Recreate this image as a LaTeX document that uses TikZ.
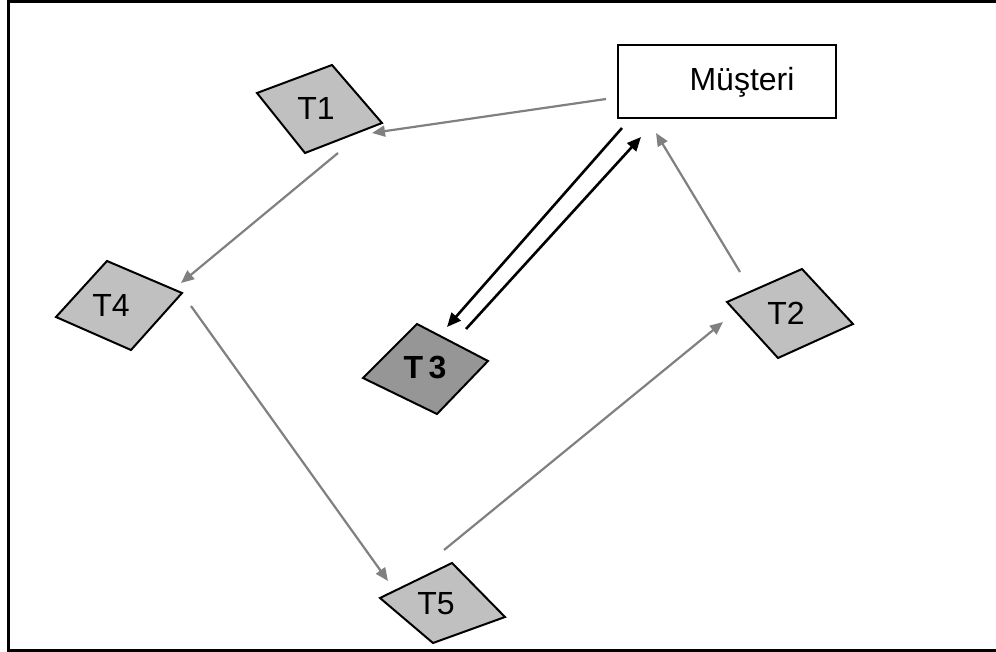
\documentclass[tikz,border=0pt]{standalone}
\usepackage{fontspec}
\setmainfont{Liberation Sans}
\usetikzlibrary{arrows.meta}
\definecolor{linkgray}{RGB}{128,128,128}
\definecolor{taskfill}{RGB}{192,192,192}
\definecolor{mainfill}{RGB}{150,150,150}
\tikzset{
  task/.style={draw=black, line width=2pt, fill=taskfill, line join=miter},
  maintask/.style={task, fill=mainfill},
  lbl/.style={inner sep=0pt, font=\fontsize{32}{36}\selectfont},
  flow/.style={draw=linkgray, line width=2.2pt, -{Triangle[length=13pt, width=11pt]}},
  call/.style={draw=black, line width=2.6pt, -{Triangle[length=14pt, width=12pt]}},
}
\begin{document}
\begin{tikzpicture}[x=1pt, y=-1pt]
\useasboundingbox (0,0) rectangle (996,652);
\clip (0,0) rectangle (996,652);
% outer frame
\draw[line width=3pt] (8,1.5) -- (1010,1.5);
\draw[line width=3pt] (8,0) -- (8,650) -- (1010,650);

% customer box
\node[draw, line width=2pt, minimum width=218pt, minimum height=73pt, anchor=north west,
      inner sep=0pt] (cust) at (617,44) {};
\node[lbl] (custlbl) at (742,82) {Müşteri};

% task parallelograms
\draw[task] (257,93) -- (332,65) -- (382,123) -- (305,153) -- cycle;
\node[lbl] (t1) at (316,108) {T1};

\draw[task] (727,302) -- (802,269) -- (853,324) -- (778,358) -- cycle;
\node[lbl] (t2) at (786,313) {T2};

\draw[maintask] (363,378) -- (417,324) -- (488,361) -- (437,414) -- cycle;
\node[lbl, font=\bfseries\fontsize{32}{36}\selectfont] (t3) at (425,368) {T\,3};

\draw[task] (56,317) -- (107,261) -- (182,293) -- (131,350) -- cycle;
\node[lbl] (t4) at (111,305) {T4};

\draw[task] (380,598) -- (452,563) -- (505,617) -- (433,643) -- cycle;
\node[lbl] (t5) at (436,604) {T5};

% connector end points
\coordinate (cust-t1) at (606,99);
\coordinate (t1-in) at (372,133);
\coordinate (t1-out) at (338,153);
\coordinate (t4-in) at (181,283);
\coordinate (t4-out) at (191,306);
\coordinate (t5-in) at (388,581);
\coordinate (t5-out) at (444,550);
\coordinate (t2-in) at (723,322);
\coordinate (t2-out) at (740,272);
\coordinate (cust-in) at (656,133);
\coordinate (cust-t3) at (622,128);
\coordinate (t3-in) at (447,327);
\coordinate (t3-out) at (466,329);
\coordinate (cust-back) at (641,137);

% task flow
\draw[flow] (cust-t1) -- (t1-in);
\draw[flow] (t1-out) -- (t4-in);
\draw[flow] (t4-out) -- (t5-in);
\draw[flow] (t5-out) -- (t2-in);
\draw[flow] (t2-out) -- (cust-in);

% request and reply with T3
\draw[call] (cust-t3) -- (t3-in);
\draw[call] (t3-out) -- (cust-back);
\end{tikzpicture}
\end{document}
